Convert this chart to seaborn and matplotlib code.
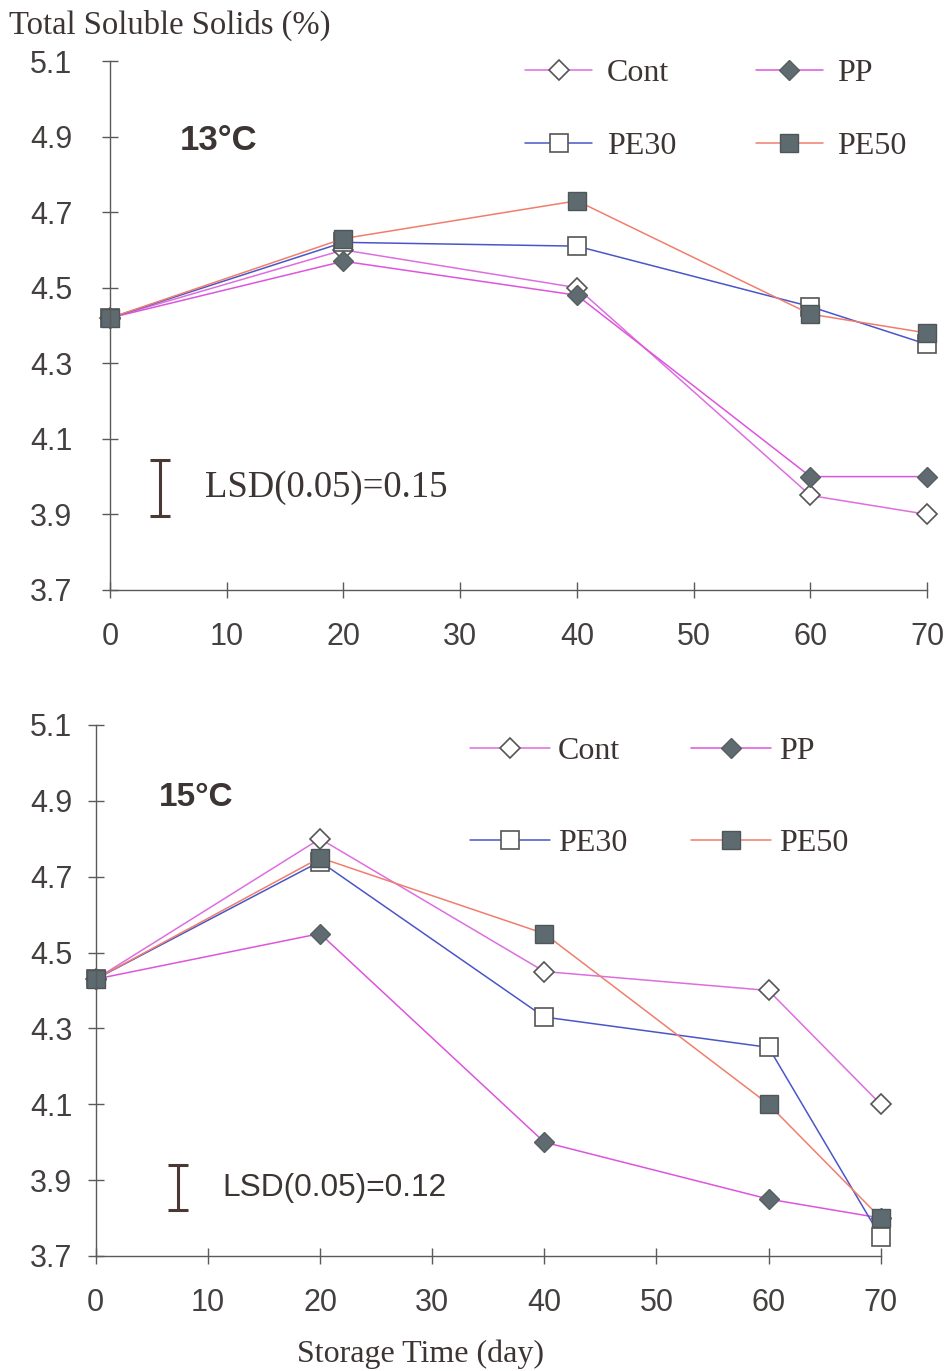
import matplotlib
matplotlib.use("Agg")
import matplotlib.pyplot as plt
import seaborn as sns

sns.set_style("white")
plt.rcParams["font.family"] = ["Liberation Sans", "DejaVu Sans"]

days = [0, 20, 40, 60, 70]

# Total soluble solids (%) at 13 °C
cont_13 = [4.42, 4.60, 4.50, 3.95, 3.90]
pp_13 = [4.42, 4.57, 4.48, 4.00, 4.00]
pe30_13 = [4.42, 4.62, 4.61, 4.45, 4.35]
pe50_13 = [4.42, 4.63, 4.73, 4.43, 4.38]

# Total soluble solids (%) at 15 °C
cont_15 = [4.43, 4.80, 4.45, 4.40, 4.10]
pp_15 = [4.43, 4.55, 4.00, 3.85, 3.80]
pe30_15 = [4.43, 4.74, 4.33, 4.25, 3.75]
pe50_15 = [4.43, 4.75, 4.55, 4.10, 3.80]

series_names = ["Cont", "PP", "PE30", "PE50"]
x_ticks = [0, 10, 20, 30, 40, 50, 60, 70]
y_ticks = [3.7, 3.9, 4.1, 4.3, 4.5, 4.7, 4.9, 5.1]
lsd_13 = 0.15
lsd_15 = 0.12

TXT = "#3d3434"
AX = "#5a5a5a"
styles = {
    "Cont": dict(color="#dd6ee0", marker="D", markersize=10, markerfacecolor="white",
                 markeredgecolor="#555555", markeredgewidth=1.2),
    "PP": dict(color="#dd55dd", marker="D", markersize=10, markerfacecolor="#5f6b70",
               markeredgecolor="#55605f", markeredgewidth=1.0),
    "PE30": dict(color="#4a56c8", marker="s", markersize=12.5, markerfacecolor="white",
                 markeredgecolor="#555555", markeredgewidth=1.2),
    "PE50": dict(color="#f07e6c", marker="s", markersize=12.5, markerfacecolor="#5d6a70",
                 markeredgecolor="#4f5658", markeredgewidth=1.0),
}

fig = plt.figure(figsize=(9.48, 13.71), dpi=100)
ax1 = fig.add_axes([0.116, 0.5697, 0.862, 0.3858])
ax2 = fig.add_axes([0.101, 0.0839, 0.828, 0.3873])


def draw_panel(ax, data, label_txt, label_xy, label_size, lsd, lsd_xy, lsd_family,
               lsd_size, lsd_text_x, ypad, leg_anchor, leg_rowspace, leg_colspace,
               leg_handlelen, leg_textpad):
    for name, vals in zip(series_names, data):
        sns.lineplot(x=days, y=vals, ax=ax, linewidth=1.1, label=name, clip_on=False,
                     **styles[name])
    h, l = ax.get_legend_handles_labels()
    handles = dict(zip(l, h))
    order = ["Cont", "PE30", "PP", "PE50"]
    ax.legend([handles[k] for k in order], order, ncol=2, frameon=False,
              loc="upper left", bbox_to_anchor=leg_anchor, bbox_transform=fig.transFigure,
              prop=dict(family="Liberation Serif", size=23), labelcolor=TXT,
              handlelength=leg_handlelen, handletextpad=leg_textpad,
              labelspacing=leg_rowspace, columnspacing=leg_colspace,
              borderaxespad=0, borderpad=0)

    ax.set_xlim(0, 70)
    ax.set_ylim(3.7, 5.1)
    ax.set_xticks(x_ticks)
    ax.set_yticks(y_ticks)
    ax.set_xticklabels([str(t) for t in x_ticks])
    ax.set_yticklabels([f"{t:.1f}" for t in y_ticks])
    ax.tick_params(axis="both", direction="inout", length=12, width=1.0, color=AX,
                   labelsize=22, labelcolor="#444040", bottom=True, left=True)
    ax.tick_params(axis="x", pad=17)
    ax.tick_params(axis="y", pad=ypad)
    for s in ["top", "right"]:
        ax.spines[s].set_visible(False)
    for s in ["left", "bottom"]:
        ax.spines[s].set_color(AX)
        ax.spines[s].set_linewidth(1.0)
    ax.set_xlabel("")
    ax.set_ylabel("")

    ax.text(label_xy[0], label_xy[1], label_txt, fontsize=label_size, fontweight="bold",
            color=TXT, ha="left", va="center", family="Liberation Sans")
    ax.errorbar([lsd_xy[0]], [lsd_xy[1]], yerr=[lsd / 2], fmt="none", ecolor="#4a3834",
                elinewidth=2.2, capsize=7, capthick=2.2)
    ax.text(lsd_text_x, lsd_xy[1], f"LSD(0.05)={lsd:.2f}", fontsize=lsd_size, color=TXT,
            ha="left", va="center", family=lsd_family)


draw_panel(ax1, [cont_13, pp_13, pe30_13, pe50_13], "13°C", (6.0, 4.89), 25, lsd_13,
           (4.3, 3.97), "Liberation Serif", 26.5, 8.1, 21,
           (0.554, 0.957), 1.35, 2.5, 2.1, 0.45)
draw_panel(ax2, [cont_15, pp_15, pe30_15, pe50_15], "15°C", (5.6, 4.91), 24, lsd_15,
           (7.3, 3.88), "Liberation Sans", 22.8, 11.3, 11,
           (0.496, 0.4625), 1.95, 2.0, 2.5, 0.25)

fig.text(0.01, 0.9818, "Total Soluble Solids (%)", family="Liberation Serif", fontsize=23.5,
         color=TXT, ha="left", va="center")
fig.text(0.444, 0.0125, "Storage Time (day)", family="Liberation Serif", fontsize=23,
         color=TXT, ha="center", va="center")

fig.savefig("out.png", dpi=100, facecolor="white")
